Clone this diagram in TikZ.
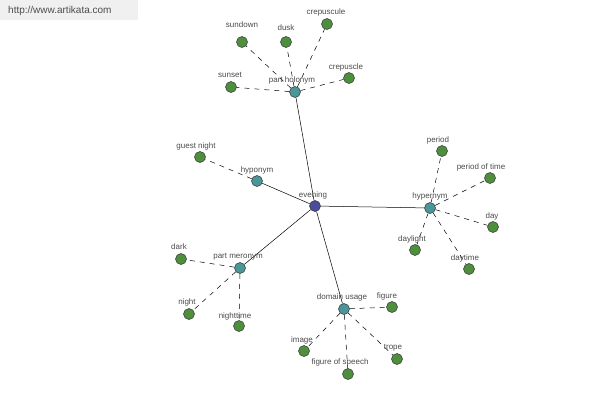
\documentclass[tikz,border=0pt]{standalone}
\usepackage{fontspec}
\setmainfont{Liberation Sans}
\definecolor{leaf}{HTML}{4E8F3E}
\definecolor{hub}{HTML}{4A9699}
\definecolor{root}{HTML}{4C4C9C}
\definecolor{txt}{HTML}{4A4A4A}
\begin{document}
\begin{tikzpicture}[x=1pt,y=-1pt,
  dot/.style={circle,draw=black!80,line width=0.5pt,minimum size=11pt,inner sep=0pt},
  leafdot/.style={dot,fill=leaf},
  hubdot/.style={dot,fill=hub},
  rootdot/.style={dot,fill=root},
  lbl/.style={font=\fontsize{8}{9}\selectfont,text=txt,inner sep=0pt},
  solidedge/.style={draw=black,line width=0.5pt},
  dashedge/.style={draw=black,line width=0.5pt,dash pattern=on 5pt off 5pt}]
\useasboundingbox (0,0) rectangle (600,400);
\fill[black!6] (0,0) rectangle (138,20);
\node[font=\fontsize{10}{11}\selectfont,text=black!70,anchor=west,inner sep=0pt] (wm) at (8,11) {http://www.artikata.com};
% nodes
\node[rootdot] (evening) at (315,206) {};
\node[hubdot] (ph) at (295,92) {};
\node[hubdot] (hypo) at (257,181) {};
\node[hubdot] (pm) at (240,268) {};
\node[hubdot] (du) at (344,309) {};
\node[hubdot] (hyper) at (430,208) {};
\node[leafdot] (sundown) at (242,42) {};
\node[leafdot] (dusk) at (286,42) {};
\node[leafdot] (crepuscule) at (327,24) {};
\node[leafdot] (crepuscle) at (349,78) {};
\node[leafdot] (sunset) at (231,87) {};
\node[leafdot] (guest) at (200,157) {};
\node[leafdot] (dark) at (181,259) {};
\node[leafdot] (night) at (189,314) {};
\node[leafdot] (nighttime) at (239,326) {};
\node[leafdot] (image) at (304,351) {};
\node[leafdot] (fos) at (348,374) {};
\node[leafdot] (trope) at (397,359) {};
\node[leafdot] (figure) at (392,307) {};
\node[leafdot] (period) at (442,151) {};
\node[leafdot] (pot) at (490,178) {};
\node[leafdot] (day) at (493,227) {};
\node[leafdot] (daytime) at (469,269) {};
\node[leafdot] (daylight) at (415,250) {};
% edges
\path[solidedge] (evening) -- (ph);
\path[solidedge] (evening) -- (hypo);
\path[solidedge] (evening) -- (pm);
\path[solidedge] (evening) -- (du);
\path[solidedge] (evening) -- (hyper);
\foreach \a/\b in {ph/sundown,ph/dusk,ph/crepuscule,ph/crepuscle,ph/sunset,hypo/guest,pm/dark,pm/night,pm/nighttime,du/image,du/fos,du/trope,du/figure,hyper/period,hyper/pot,hyper/day,hyper/daytime,hyper/daylight}
  \path[dashedge] (\a) -- (\b);
% labels
\node[lbl] (levening) at (313,195) {evening};
\node[lbl] (lph) at (292,80) {part holonym};
\node[lbl] (lhypo) at (257,170) {hyponym};
\node[lbl] (lpm) at (238,257) {part meronym};
\node[lbl] (ldu) at (342,297) {domain usage};
\node[lbl] (lhyper) at (430,196) {hypernym};
\node[lbl] (lsundown) at (242,25) {sundown};
\node[lbl] (ldusk) at (286,28) {dusk};
\node[lbl] (lcrepuscule) at (326,12) {crepuscule};
\node[lbl] (lcrepuscle) at (346,67) {crepuscle};
\node[lbl] (lsunset) at (230,75) {sunset};
\node[lbl] (lguest) at (196,146) {guest night};
\node[lbl] (ldark) at (179,247) {dark};
\node[lbl] (lnight) at (187,302) {night};
\node[lbl] (lnighttime) at (235,316) {nighttime};
\node[lbl] (limage) at (302,340) {image};
\node[lbl] (lfos) at (340,362) {figure of speech};
\node[lbl] (ltrope) at (393,348) {trope};
\node[lbl] (lfigure) at (387,296) {figure};
\node[lbl] (lperiod) at (438,140) {period};
\node[lbl] (lpot) at (481,167) {period of time};
\node[lbl] (lday) at (492,216) {day};
\node[lbl] (ldaytime) at (465,258) {daytime};
\node[lbl] (ldaylight) at (412,239) {daylight};
\end{tikzpicture}
\end{document}
